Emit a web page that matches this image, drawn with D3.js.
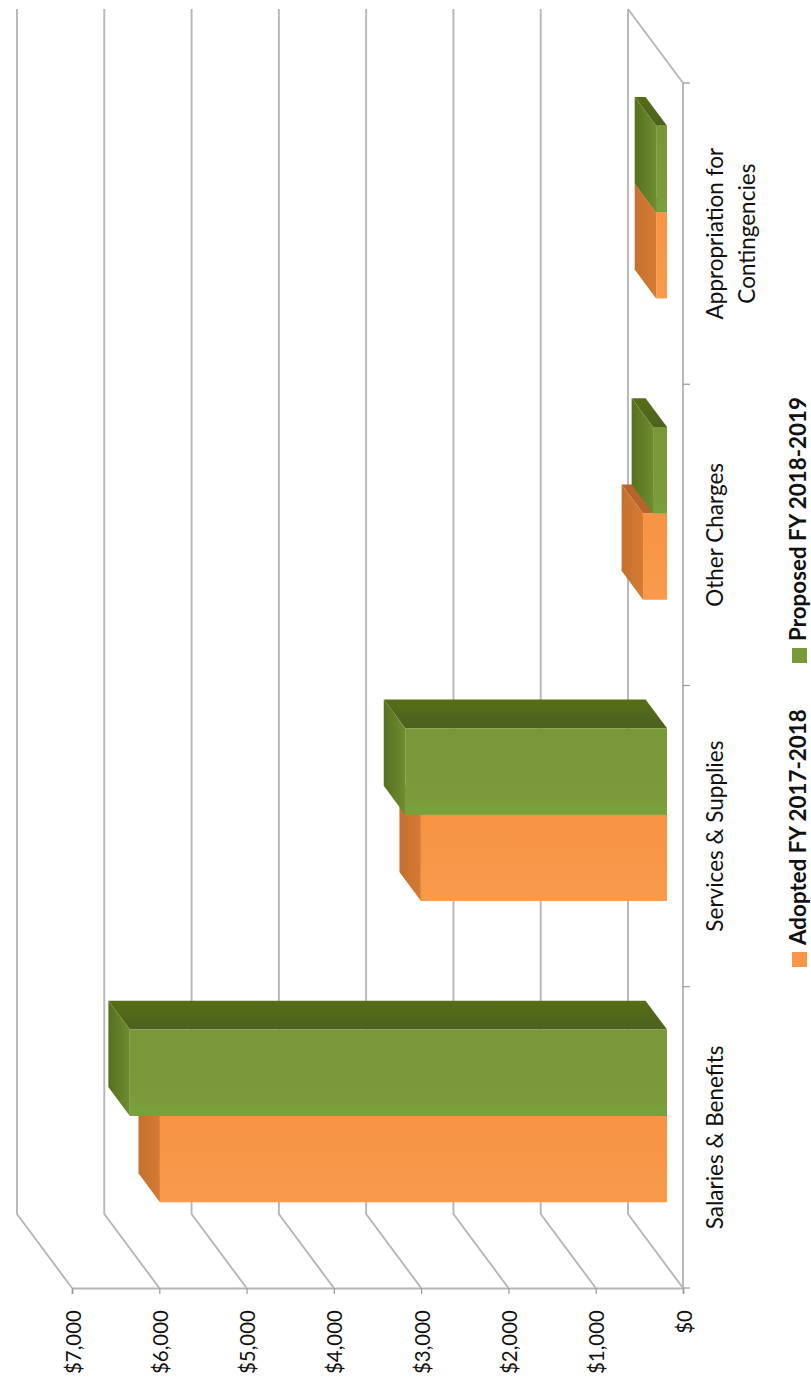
<!DOCTYPE html>
<html><head><meta charset="utf-8">
<script src="https://cdn.jsdelivr.net/npm/d3@7"></script>
<style>html,body{margin:0;padding:0;background:#fff}svg{display:block}text{font-family:Lato,"Open Sans",sans-serif;fill:#111}</style>
</head><body><svg id="c" width="811" height="1384"></svg>
<script>
const categories=["Salaries & Benefits","Services & Supplies","Other Charges","Appropriation for|Contingencies"];
const adopted=[5810,2820,275,125];
const proposed=[6155,3000,160,125];
const valueTicks=[0,1000,2000,3000,4000,5000,6000,7000];
const seriesNames=["Adopted FY 2017-2018","Proposed FY 2018-2019"];

const svg=d3.select("#c");
const defs=svg.append("defs");
function grad(id,x2,y2,stops){
  const g=defs.append("linearGradient").attr("id",id).attr("x1",0).attr("y1",0).attr("x2",x2).attr("y2",y2);
  stops.forEach(([o,c])=>g.append("stop").attr("offset",o).attr("stop-color",c));
  return `url(#${id})`;
}
const x=d3.scaleLinear().domain([0,7000]).range([683,72]);
const y=d3.scaleBand().domain(categories).range([1288,83]);
const DX=-55,DY=-74;
const pt=(v,py,d)=>[x(v)+DX*d,py+DY*d].join(",");
const grid="#b6b6b6";

// walls
const wall=svg.append("g").attr("fill","none").attr("stroke",grid).attr("stroke-width",1.9);
wall.selectAll("path.v").data(valueTicks).join("path")
  .attr("d",v=>`M${x(v)},1288L${x(v)+DX},${1288+DY}L${x(v)+DX},${83+DY}`);
wall.append("path").attr("d",`M${x(0)},83L${x(0)+DX},${83+DY}`);
wall.append("path").attr("d",`M${x(0)},83L${x(0)},1288`);

// bars
const D0=0.29,D1=0.68,barFrac=0.2865;
const bw=y.bandwidth()*barFrac;
const bars=svg.append("g");
const faces={
  a:{front:grad("af",0,1,[[0,"#F79343"],[1,"#F99A4C"]]),end:grad("ae",1,0,[[0,"#C4702F"],[1,"#D67A33"]]),top:"#B5642A",key:"#F79646"},
  p:{front:grad("pf",0,1,[[0,"#779838"],[0.88,"#7C9B3B"],[0.9,"#77A13A"],[1,"#77A13A"]]),end:grad("pe",1,0,[[0,"#55701F"],[1,"#6C8D30"]]),top:grad("pt",0,1,[[0,"#566E16"],[1,"#4B6120"]]),key:"#7A9A3A"}
};
function bar(v,yTop,c){
  const yB=yTop+bw;
  bars.append("polygon").attr("fill",c.top).attr("points",[pt(0,yTop,D0),pt(v,yTop,D0),pt(v,yTop,D1),pt(0,yTop,D1)].join(" "));
  bars.append("polygon").attr("fill",c.end).attr("points",[pt(v,yTop,D0),pt(v,yB,D0),pt(v,yB,D1),pt(v,yTop,D1)].join(" "));
  bars.append("polygon").attr("fill",c.front).attr("points",[pt(0,yTop,D0),pt(v,yTop,D0),pt(v,yB,D0),pt(0,yB,D0)].join(" "));
}
categories.forEach((c,i)=>{
  const mid=y(c)+y.bandwidth()/2;
  bar(adopted[i],mid,faces.a);
  bar(proposed[i],mid-bw,faces.p);
});

// value axis
const ax=svg.append("g").attr("transform","translate(0,1288)")
  .call(d3.axisBottom(x).tickValues(valueTicks).tickSize(6).tickPadding(0).tickFormat(d=>"$"+d3.format(",")(d)));
ax.select(".domain").attr("stroke",grid).attr("stroke-width",1.9);
ax.selectAll(".tick line").attr("stroke","#999").attr("stroke-width",1.2);
ax.selectAll(".tick text").attr("transform","translate(8,22) rotate(-90)").attr("dy",0).attr("y",0).attr("x",0)
  .attr("text-anchor","end").style("font-size","20.5px").style("font-family",'Lato,"Open Sans",sans-serif').attr("fill","#111");

// category ticks
const catEdges=d3.range(categories.length+1).map(i=>1288-i*y.step());
svg.append("g").selectAll("line").data(catEdges).join("line")
  .attr("x1",x(0)).attr("x2",x(0)+7).attr("y1",d=>d).attr("y2",d=>d).attr("stroke","#999").attr("stroke-width",1.2);

// category labels
categories.forEach(c=>{
  const lines=c.split("|"), cy=y(c)+y.bandwidth()/2;
  lines.forEach((l,j)=>svg.append("text").text(l)
    .attr("transform",`translate(${723+j*31.5},${cy}) rotate(-90)`)
    .attr("text-anchor","middle").style("font-size","22.5px"));
});

// legend
const lg=[{y:967,c:faces.a.key},{y:663,c:faces.p.key}];
seriesNames.forEach((s,i)=>{
  svg.append("rect").attr("x",792).attr("y",lg[i].y-15).attr("width",15).attr("height",15).attr("fill",lg[i].c);
  svg.append("text").text(s).attr("transform",`translate(806,${lg[i].y-22}) rotate(-90)`)
    .style("font-size","22.4px").style("font-weight","700");
});
</script></body></html>
